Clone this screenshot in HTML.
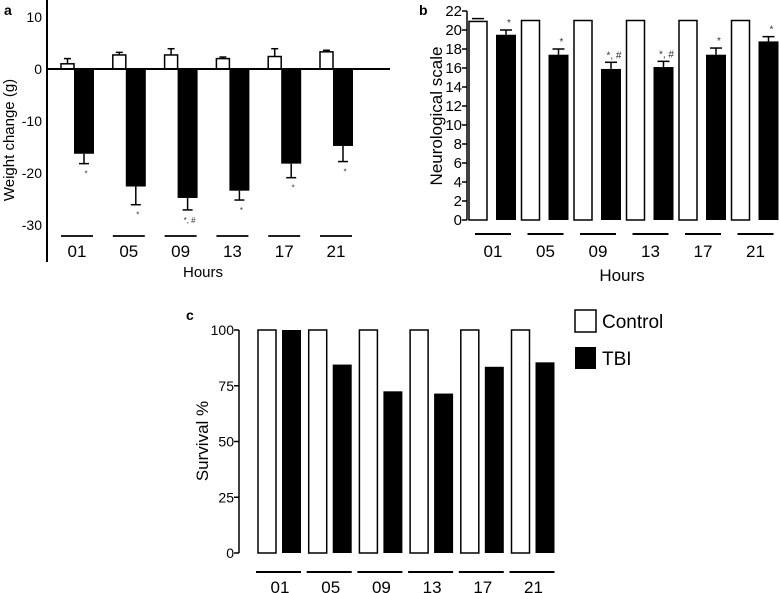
<!DOCTYPE html>
<html><head><meta charset="utf-8"><style>
html,body{margin:0;padding:0;background:#fff;}
svg{display:block;font-family:"Liberation Sans",Arial,sans-serif;}
</style></head><body>
<svg id="fig" width="779" height="593" viewBox="0 0 779 593" xmlns="http://www.w3.org/2000/svg">
<g id="pa"></g>
<g id="pb"></g>
<g id="pc"></g>
<g>
<rect x="575" y="310" width="21" height="22" fill="#fff" stroke="#000" stroke-width="1.5"/>
<text x="602" y="328" font-size="19">Control</text>
<rect x="575" y="347" width="21" height="22" fill="#000"/>
<text x="602" y="365" font-size="19">TBI</text>
</g>
</svg>
<script>
const categories = ["01","05","09","13","17","21"];
// Panel a
const aControl = [1, 2.7, 2.7, 2, 2.4, 3.3];
const aControlErr = [1, 0.5, 1.2, 0.3, 1.5, 0.3];
const aTBI = [-16.3, -22.6, -24.8, -23.4, -18.2, -14.8];
const aTBIErr = [1.9, 3.5, 2.3, 1.8, 2.7, 3];
const aSig = ["*","*","*, #","*","*","*"];
const aTicks = [10, 0, -10, -20, -30];
// Panel b
const bControl = [20.9, 21, 21, 21, 21, 21];
const bControlErr = [0.3, 0, 0, 0, 0, 0];
const bTBI = [19.5, 17.4, 15.9, 16.1, 17.4, 18.8];
const bTBIErr = [0.5, 0.6, 0.7, 0.6, 0.7, 0.5];
const bSig = ["*","*","*, #","*, #","*","*"];
const bTicks = [0,2,4,6,8,10,12,14,16,18,20,22];
// Panel c
const cControl = [100, 100, 100, 100, 100, 100];
const cTBI = [100, 84.5, 72.5, 71.5, 83.5, 85.5];
const cTicks = [0, 25, 50, 75, 100];

const NS = "http://www.w3.org/2000/svg";
function mk(parent, tag, attrs, text){
  const e = document.createElementNS(NS, tag);
  for (const k in attrs) e.setAttribute(k, attrs[k]);
  if (text !== undefined) e.textContent = text;
  parent.appendChild(e);
  return e;
}

// ---------- Panel A ----------
(function(){
  const g = document.getElementById('pa');
  const y = v => 69 - v * 5.2;
  const cx = i => 77 + i * 51.8;
  let t = mk(g,'text',{x:4,y:15,'font-size':14,'font-weight':'bold'},'a');
   
  let ax = mk(g,'line',{x1:47,y1:0,x2:47,y2:262,stroke:'#000','stroke-width':2});
   
  aTicks.forEach(v=>{
    const tl = mk(g,'text',{x:42,y:y(v)+5,'font-size':14,'text-anchor':'end'},String(v));
     
  });
  const yt = mk(g,'text',{transform:'translate(14,140) rotate(-90)','font-size':15,'text-anchor':'middle'},'Weight change (g)');
   
  categories.forEach((c,i)=>{
    const x = cx(i);
    const top = y(aControl[i]), et = y(aControl[i]+aControlErr[i]);
    mk(g,'line',{x1:x-9.5,y1:top,x2:x-9.5,y2:et,stroke:'#000','stroke-width':1.5});
    mk(g,'line',{x1:x-13,y1:et,x2:x-6,y2:et,stroke:'#000','stroke-width':1.5});
    const r1 = mk(g,'rect',{x:x-16,y:top,width:13,height:y(0)-top,fill:'#fff',stroke:'#000','stroke-width':1.5});
     
    const bot = y(aTBI[i]), eb = y(aTBI[i]-aTBIErr[i]);
    mk(g,'line',{x1:x+7,y1:bot,x2:x+7,y2:eb,stroke:'#000','stroke-width':1.5});
    mk(g,'line',{x1:x+2,y1:eb,x2:x+12,y2:eb,stroke:'#000','stroke-width':1.5});
    const r2 = mk(g,'rect',{x:x-3,y:y(0),width:20,height:bot-y(0),fill:'#000'});
     
    const s = mk(g,'text',{x:x+9,y:eb+13,'font-size':8,'text-anchor':'middle',fill:'#333'},aSig[i]);
     
    mk(g,'line',{x1:x-16,y1:236,x2:x+16,y2:236,stroke:'#000','stroke-width':1.8});
    const cl = mk(g,'text',{x:x,y:257,'font-size':17,'text-anchor':'middle'},c);
     
  });
  const z = mk(g,'line',{x1:47,y1:69,x2:390,y2:69,stroke:'#000','stroke-width':2});
   
  const xt = mk(g,'text',{x:203,y:277,'font-size':15,'text-anchor':'middle'},'Hours');
   
})();

// ---------- Panel B ----------
(function(){
  const g = document.getElementById('pb');
  const y = v => 220 - v * 9.5;
  const x0 = i => 469 + i * 52.5;
  let t = mk(g,'text',{x:419,y:15,'font-size':14,'font-weight':'bold'},'b');
   
  let ax = mk(g,'line',{x1:467,y1:y(22),x2:467,y2:y(0),stroke:'#000','stroke-width':1.5});
   
  bTicks.forEach(v=>{
    mk(g,'line',{x1:462,y1:y(v),x2:467,y2:y(v),stroke:'#000','stroke-width':1.5});
    const tl = mk(g,'text',{x:462,y:y(v)+5,'font-size':15,'text-anchor':'end'},String(v));
     
  });
  const yt = mk(g,'text',{transform:'translate(442,116) rotate(-90)','font-size':17,'text-anchor':'middle'},'Neurological scale');
   
  categories.forEach((c,i)=>{
    const x = x0(i);
    const et = y(bControl[i]+bControlErr[i]);
    if (bControlErr[i]>0){
      mk(g,'line',{x1:x+3,y1:et,x2:x+15,y2:et,stroke:'#000','stroke-width':1.5});
    }
    const r1 = mk(g,'rect',{x:x,y:y(bControl[i]),width:18,height:y(0)-y(bControl[i]),fill:'#fff',stroke:'#000','stroke-width':1.5});
     
    const bx = x + 27;
    const eb = y(bTBI[i]+bTBIErr[i]);
    mk(g,'line',{x1:bx+10,y1:eb,x2:bx+10,y2:y(bTBI[i]),stroke:'#000','stroke-width':1.5});
    mk(g,'line',{x1:bx+4,y1:eb,x2:bx+16,y2:eb,stroke:'#000','stroke-width':1.5});
    const r2 = mk(g,'rect',{x:bx,y:y(bTBI[i]),width:20,height:y(0)-y(bTBI[i]),fill:'#000'});
     
    const s = mk(g,'text',{x:bx+13,y:eb-4,'font-size':10,'text-anchor':'middle',fill:'#333'},bSig[i]);
     
    mk(g,'line',{x1:x+6,y1:234,x2:x+42,y2:234,stroke:'#000','stroke-width':2});
    const cl = mk(g,'text',{x:x+24,y:257,'font-size':17,'text-anchor':'middle'},c);
     
  });
  const xt = mk(g,'text',{x:622,y:281,'font-size':17,'text-anchor':'middle'},'Hours');
   
})();

// ---------- Panel C ----------
(function(){
  const g = document.getElementById('pc');
  const y = v => 553 - v * 2.23;
  const x0 = i => 258 + i * 50.7;
  let t = mk(g,'text',{x:186,y:320,'font-size':14,'font-weight':'bold'},'c');
   
  let ax = mk(g,'line',{x1:239,y1:y(100),x2:239,y2:y(0),stroke:'#000','stroke-width':1.5});
   
  cTicks.forEach(v=>{
    mk(g,'line',{x1:234,y1:y(v),x2:239,y2:y(v),stroke:'#000','stroke-width':1.5});
    const tl = mk(g,'text',{x:234,y:y(v)+5,'font-size':14,'text-anchor':'end'},String(v));
     
  });
  const yt = mk(g,'text',{transform:'translate(208,441) rotate(-90)','font-size':17,'text-anchor':'middle'},'Survival %');
   
  categories.forEach((c,i)=>{
    const x = x0(i);
    const r1 = mk(g,'rect',{x:x,y:y(cControl[i]),width:18,height:y(0)-y(cControl[i]),fill:'#fff',stroke:'#000','stroke-width':1.5});
     
    const r2 = mk(g,'rect',{x:x+24,y:y(cTBI[i]),width:19,height:y(0)-y(cTBI[i]),fill:'#000'});
     
    mk(g,'line',{x1:x-2,y1:572,x2:x+43,y2:572,stroke:'#000','stroke-width':2});
    const cl = mk(g,'text',{x:x+22,y:593,'font-size':17,'text-anchor':'middle'},c);
     
  });
})();
</script>
</body></html>
